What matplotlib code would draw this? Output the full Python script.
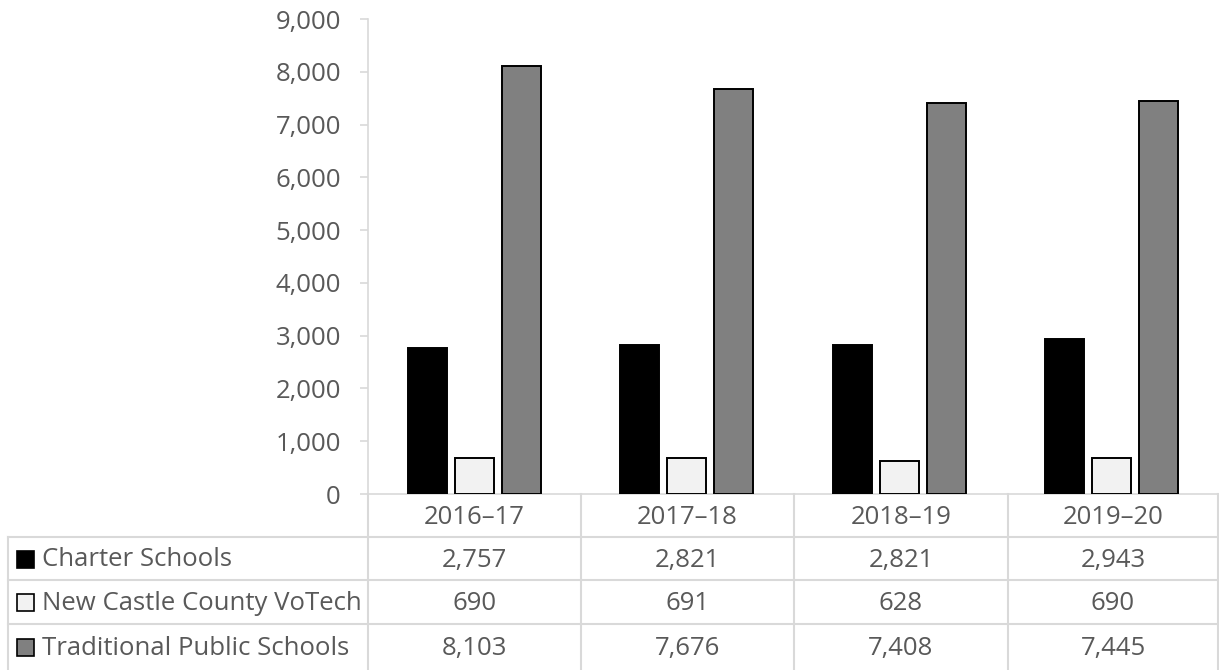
import matplotlib.pyplot as plt
from matplotlib.lines import Line2D
from matplotlib.patches import Rectangle
import numpy as np

years = ['2016–17', '2017–18', '2018–19', '2019–20']
series = ['Charter Schools', 'New Castle County VoTech', 'Traditional Public Schools']
charter = [2757, 2821, 2821, 2943]
votech = [690, 691, 628, 690]
traditional = [8103, 7676, 7408, 7445]

colors = ['#000000', '#f2f2f2', '#808080']
values = [charter, votech, traditional]

W, H = 1219, 670
TXT = '#595959'
LINE = '#d9d9d9'
plt.rcParams['font.family'] = ['Open Sans', 'DejaVu Sans']

fig = plt.figure(figsize=(W / 100, H / 100), dpi=100)


def fx(x):
    return x / W


def fy(y):
    return 1 - y / H


ax = fig.add_axes([fx(368), fy(494), fx(1218) - fx(368), fy(19) - fy(494)])

x = np.arange(len(years))
bw = 0.183
offs = [-0.221, 0, 0.221]
for vals, c, o in zip(values, colors, offs):
    ax.bar(x + o, vals, bw, color=c, edgecolor='black', linewidth=1.4, zorder=3)

ax.set_xlim(-0.5, len(years) - 0.5)
ax.set_ylim(0, 9000)
ax.set_yticks(range(0, 9001, 1000))
ax.set_yticklabels([f'{v:,}' for v in range(0, 9001, 1000)])
fs = 18.5
ax.tick_params(axis='y', colors=LINE, labelcolor=TXT, labelsize=fs, length=6, pad=13.5, width=1.2)
ax.set_xticks([])
for s in ['top', 'right']:
    ax.spines[s].set_visible(False)
ax.spines['left'].set_color(LINE)
ax.spines['bottom'].set_color(LINE)
ax.spines['left'].set_linewidth(1.2)
ax.spines['bottom'].set_linewidth(1.2)

# data table under the plot
row_y = [494, 537, 580, 624, 670]
col_x = [368, 581, 794, 1008, 1218]


def hline(y, x0, x1):
    fig.add_artist(Line2D([fx(x0), fx(x1)], [fy(y), fy(y)], color=LINE, lw=1.5))


def vline(x, y0, y1):
    fig.add_artist(Line2D([fx(x), fx(x)], [fy(y0), fy(y1)], color=LINE, lw=1.5))


for y in row_y[1:4]:
    hline(y, 8, 1218)
vline(8, 537, 670)
for cx in col_x:
    vline(cx, 494, 670)

dy = 1.5
for i, yr in enumerate(years):
    cx = (col_x[i] + col_x[i + 1]) / 2
    fig.text(fx(cx), fy((row_y[0] + row_y[1]) / 2 + dy), yr, ha='center', va='center',
             color=TXT, fontsize=fs)
    for r, vals in enumerate(values):
        cy = (row_y[r + 1] + row_y[r + 2]) / 2
        fig.text(fx(cx), fy(cy + dy), f'{vals[i]:,}', ha='center', va='center',
                 color=TXT, fontsize=fs)

for r, (name, c) in enumerate(zip(series, colors)):
    cy = (row_y[r + 1] + row_y[r + 2]) / 2
    fig.add_artist(Rectangle((fx(17), fy(cy + 9)), fx(17), fy(0) - fy(17),
                             facecolor=c, edgecolor='black', lw=1.2))
    fig.text(fx(42), fy(cy + dy), name, ha='left', va='center', color=TXT, fontsize=fs)

fig.savefig('out.png', dpi=100, facecolor='white')
